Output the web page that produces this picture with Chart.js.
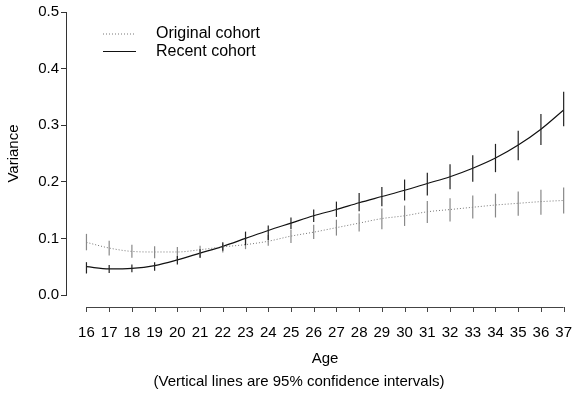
<!DOCTYPE html>
<html>
<head>
<meta charset="utf-8">
<script src="https://cdn.jsdelivr.net/npm/chart.js@4"></script>
<style>
  html, body { margin: 0; padding: 0; background: #fff; }
  #wrap { width: 573px; height: 395px; }
</style>
</head>
<body>
<div id="wrap"><canvas id="c" width="573" height="395"></canvas></div>
<script>
// Age at measurement
const ages = [16, 17, 18, 19, 20, 21, 22, 23, 24, 25, 26, 27, 28, 29, 30, 31, 32, 33, 34, 35, 36, 37];

// Original cohort: estimated variance and 95% confidence limits
const originalMean = [0.093, 0.083, 0.077, 0.076, 0.076, 0.080, 0.085, 0.089, 0.095, 0.104, 0.111, 0.119, 0.127, 0.135, 0.140, 0.147, 0.151, 0.155, 0.159, 0.162, 0.165, 0.167];
const originalLow  = [0.079, 0.070, 0.066, 0.065, 0.063, 0.066, 0.075, 0.081, 0.087, 0.092, 0.099, 0.105, 0.112, 0.116, 0.122, 0.127, 0.130, 0.135, 0.137, 0.140, 0.142, 0.144];
const originalHigh = [0.108, 0.096, 0.089, 0.086, 0.085, 0.087, 0.091, 0.099, 0.106, 0.115, 0.124, 0.133, 0.144, 0.153, 0.158, 0.166, 0.171, 0.176, 0.179, 0.183, 0.186, 0.190];

// Recent cohort: estimated variance and 95% confidence limits
const recentMean = [0.050, 0.046, 0.047, 0.052, 0.062, 0.074, 0.086, 0.100, 0.114, 0.127, 0.140, 0.151, 0.163, 0.174, 0.185, 0.197, 0.209, 0.224, 0.242, 0.265, 0.293, 0.327];
const recentLow    = [0.038, 0.039, 0.040, 0.043, 0.054, 0.066, 0.078, 0.088, 0.097, 0.116, 0.129, 0.138, 0.148, 0.157, 0.167, 0.176, 0.187, 0.200, 0.217, 0.238, 0.265, 0.298];
const recentHigh   = [0.058, 0.053, 0.054, 0.058, 0.069, 0.081, 0.093, 0.112, 0.123, 0.137, 0.151, 0.165, 0.180, 0.191, 0.204, 0.216, 0.231, 0.247, 0.267, 0.290, 0.320, 0.359];

// Y tick values
const varianceTicks = [0.0, 0.1, 0.2, 0.3, 0.4, 0.5];

// Axis caption lines
const xTitle = 'Age';
const footnote = '(Vertical lines are 95% confidence intervals)';

const FONT = '"Liberation Sans", Arial, Helvetica, sans-serif';

const toPoints = (ys) => ages.map((a, i) => ({ x: a, y: ys[i] }));

// Vertical confidence-interval bars drawn through the chart scales
const ciBars = {
  id: 'ciBars',
  afterDatasetsDraw(chart) {
    const { ctx, scales: { x, y } } = chart;
    chart.data.datasets.forEach((ds) => {
      ctx.save();
      ctx.strokeStyle = ds.ciColor;
      ctx.lineWidth = 1.2;
      ds.ciLow.forEach((lo, i) => {
        const px = x.getPixelForValue(ages[i]);
        ctx.beginPath();
        ctx.moveTo(px, y.getPixelForValue(lo));
        ctx.lineTo(px, y.getPixelForValue(ds.ciHigh[i]));
        ctx.stroke();
      });
      ctx.restore();
    });
  }
};

// Detached age axis: a baseline with downward ticks below the plot,
// its title centred under the ticks and a footnote beneath
const ageAxis = {
  id: 'ageAxis',
  afterDraw(chart) {
    const { ctx, chartArea, scales: { x } } = chart;
    const yLine = chartArea.bottom + 12;
    const x0 = x.getPixelForValue(ages[0]);
    const x1 = x.getPixelForValue(ages[ages.length - 1]);
    ctx.save();
    ctx.strokeStyle = '#444';
    ctx.lineWidth = 1;
    ctx.beginPath();
    ctx.moveTo(x0, yLine + 0.5);
    ctx.lineTo(x1, yLine + 0.5);
    ages.forEach((a) => {
      const px = Math.round(x.getPixelForValue(a)) + 0.5;
      ctx.moveTo(px, yLine);
      ctx.lineTo(px, yLine + 5);
    });
    ctx.stroke();

    ctx.fillStyle = '#000';
    ctx.font = '15px ' + FONT;
    ctx.textAlign = 'center';
    ctx.textBaseline = 'middle';
    ctx.fillText(xTitle, (x0 + x1) / 2, chartArea.bottom + 64);
    ctx.fillText(footnote, 299, chartArea.bottom + 87);
    ctx.restore();
  }
};

// Legend in the upper-left corner of the plot
const cornerLegend = {
  id: 'cornerLegend',
  afterDraw(chart) {
    const { ctx } = chart;
    const rows = [
      { y: 34, ds: chart.data.datasets[0] },
      { y: 51.5, ds: chart.data.datasets[1] }
    ];
    ctx.save();
    ctx.font = '16px ' + FONT;
    ctx.textBaseline = 'middle';
    ctx.fillStyle = '#000';
    rows.forEach((r) => {
      ctx.strokeStyle = r.ds.borderColor;
      ctx.lineWidth = r.ds.borderWidth;
      ctx.setLineDash(r.ds.borderDash || []);
      ctx.beginPath();
      ctx.moveTo(103, r.y);
      ctx.lineTo(136, r.y);
      ctx.stroke();
      ctx.setLineDash([]);
      ctx.fillText(r.ds.label, 156, r.y);
    });
    ctx.restore();
  }
};

new Chart(document.getElementById('c'), {
  type: 'line',
  data: {
    datasets: [
      {
        label: 'Original cohort',
        data: toPoints(originalMean),
        borderColor: '#777',
        borderWidth: 1,
        borderDash: [1, 2],
        pointRadius: 0,
        cubicInterpolationMode: 'monotone',
        ciLow: originalLow,
        ciHigh: originalHigh,
        ciColor: '#888'
      },
      {
        label: 'Recent cohort',
        data: toPoints(recentMean),
        borderColor: '#111',
        borderWidth: 1.2,
        pointRadius: 0,
        cubicInterpolationMode: 'monotone',
        ciLow: recentLow,
        ciHigh: recentHigh,
        ciColor: '#222'
      }
    ]
  },
  options: {
    responsive: false,
    animation: false,
    layout: { padding: { top: 12, right: 0, bottom: 0, left: 0 } },
    plugins: {
      legend: { display: false },
      tooltip: { enabled: false }
    },
    scales: {
      x: {
        type: 'linear',
        min: 15.1,
        max: 37,
        afterBuildTicks: (scale) => { scale.ticks = ages.map((a) => ({ value: a })); },
        grid: { display: true, drawOnChartArea: false, tickLength: 28, tickColor: 'rgba(0,0,0,0)' },
        border: { display: false },
        ticks: {
          padding: 1,
          color: '#000',
          font: { family: FONT, size: 15 },
          maxRotation: 0,
          autoSkip: false
        },
        afterFit: (scale) => { scale.height = 100; }
      },
      y: {
        min: 0,
        max: 0.5,
        afterBuildTicks: (scale) => { scale.ticks = varianceTicks.map((v) => ({ value: v })); },
        grid: { drawOnChartArea: false, tickLength: 5, color: '#333' },
        border: { display: true, color: '#333', width: 1 },
        ticks: {
          padding: 2,
          color: '#000',
          font: { family: FONT, size: 15 },
          callback: (v) => Number(v).toFixed(1)
        },
        title: {
          display: true,
          text: 'Variance',
          color: '#000',
          font: { family: FONT, size: 15 },
          padding: { top: 5, bottom: 0 }
        },
        afterFit: (scale) => { scale.width = 66; }
      }
    }
  },
  plugins: [ciBars, ageAxis, cornerLegend]
});
</script>
</body>
</html>
